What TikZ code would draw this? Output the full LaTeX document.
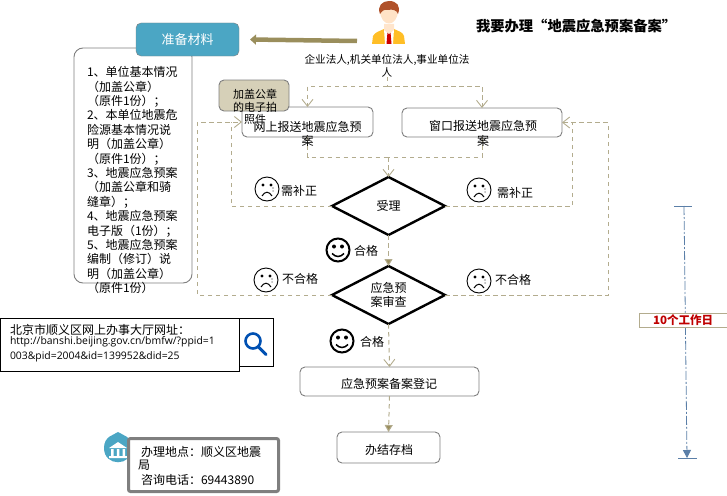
\documentclass[tikz,border=0pt]{standalone}
\usepackage{fontspec}
\setmainfont{Noto Sans CJK SC}
\newfontfamily\urlfont{Open Sans}
\usetikzlibrary{arrows.meta,shapes.geometric}
\definecolor{olive}{HTML}{B3AC8E}
\definecolor{olivedark}{HTML}{9A8E5C}
\definecolor{teal}{HTML}{4BA6C4}
\definecolor{tan}{HTML}{D6D0B8}
\definecolor{boxgray}{HTML}{7F7F7F}
\definecolor{steel}{HTML}{5B7FA8}
\tikzset{
  x=1pt,y=-1pt,
  every node/.style={inner sep=0pt,outer sep=0pt,text=black},
  txt/.style={font=\fontsize{12}{14.4}\selectfont,align=center},
  small/.style={font=\fontsize{11}{12.5}\selectfont,align=center},
  proc/.style={draw=boxgray,line width=0.9pt,rounded corners=5pt,fill=white},
  decide/.style={diamond,draw=black,line width=2.4pt,fill=white,aspect=1.95,minimum width=113pt,minimum height=58pt},
  dashline/.style={draw=olive,line width=1pt,dash pattern=on 4.5pt off 3.5pt},
  openarrow/.style={dashline,-{Straight Barb[length=7pt,width=11pt,line width=0.9pt]}},
  fillarrow/.style={dashline,-{Triangle[length=7pt,width=8pt,fill=olivedark]}},
  sadface/.pic={
    \draw[line width=0.9pt,fill=white] (0,0) circle (12);
    \fill (-4,-4) circle (1.7) (4,-4) circle (1.7);
    \draw[line width=1pt] (-5,7) .. controls (-2,2) and (2,2) .. (5,7);
    \fill[gray!60] (6,-1) circle (1.2) (6,2) circle (1);
  },
  happyface/.pic={
    \draw[line width=2pt,fill=white] (0,0) circle (11.5);
    \fill (-4,-3.5) circle (2) (4,-3.5) circle (2);
    \draw[line width=1.5pt] (-6,3.5) .. controls (-2,7.5) and (2,7.5) .. (6,3.5);
  }
}
\begin{document}
\begin{tikzpicture}
\useasboundingbox (0,0) rectangle (727,495);
% materials
\node[proc,draw=boxgray,rounded corners=9pt,minimum width=118pt,minimum height=235pt] (matbox) at (133,165.5) {};
\node[fill=teal,draw=boxgray,rounded corners=5pt,minimum width=103pt,minimum height=33pt,font=\fontsize{13}{15}\selectfont] (prep) at (187.5,39.5) {\textcolor{white}{准备材料}};
\node[anchor=north west,font=\fontsize{12}{14.4}\selectfont,align=left] (mattext) at (87,66.5) {1、单位基本情况\\（加盖公章）\\（原件1份）；\\2、本单位地震危\\险源基本情况说\\明（加盖公章）\\（原件1份）；\\3、地震应急预案\\（加盖公章和骑\\缝章）；\\4、地震应急预案\\电子版（1份）；\\5、地震应急预案\\编制（修订）说\\明（加盖公章）\\（原件1份）};
% person
\fill[orange!60!yellow!85!white] (372,44) -- (373,36) .. controls (375,32) and (380,31) .. (384,29) -- (394,29) .. controls (398,31) and (403,32) .. (404,36) -- (405,44) -- cycle;
\fill[white] (384,29) -- (389,34) -- (394,29) -- (393,44) -- (385,44) -- cycle;
\fill[red!80!black] (387.5,32) -- (390.5,32) -- (391.5,44) -- (386.5,44) -- cycle;
\fill[orange!20!white] (384,24) -- (394,24) -- (394,30) -- (389,34) -- (384,30) -- cycle;
\fill[orange!22!white] (380,10) .. controls (380,28) and (398,28) .. (398,10) -- cycle;
\fill[brown!75!red!85!black] (380,14) .. controls (377,6) and (382,1) .. (389,1) .. controls (397,1) and (401,6) .. (398,14) .. controls (397,10) and (392,9) .. (388,10) .. controls (384,9) and (382,11) .. (380,14) -- cycle;
\node[small,font=\fontsize{10.6}{13}\selectfont] (people) at (387,65.5) {企业法人,机关单位法人,事业单位法\\人};
\node[anchor=west,font=\bfseries\fontsize{14.3}{16}\selectfont] (title) at (476,26) {我要办理“地震应急预案备案”};
\coordinate (tail) at (357,41);
\draw[draw=olivedark,line width=4.5pt,-{Triangle[length=6pt,width=10pt,fill=olivedark]}] (tail) -- (prep.east -| 250,41);
% process boxes
\node[proc,minimum width=131pt,minimum height=30pt] (net) at (307.5,122) {};
\node[proc,minimum width=160pt,minimum height=29pt] (win) at (482,122.5) {};
\node[decide] (d1) at (388.5,206) {};
\node[txt] (d1t) at (388.5,206) {受理};
\node[decide] (d2) at (388.5,295) {};
\node[txt] (d2t) at (388.5,295) {应急预\\案审查};
\node[proc,minimum width=179pt,minimum height=29pt] (reg) at (389.5,381.5) {};
\node[proc,minimum width=103pt,minimum height=31pt] (arch) at (388.5,447.5) {};
% connectors
\coordinate (topbus) at (387,86);
\coordinate (botbus) at (388.5,157);
\draw[dashline] (people.south) -- (topbus);
\draw[openarrow] (topbus) -| (net.north);
\draw[openarrow] (topbus) -| (win.north);
\draw[dashline] (net.south) |- (botbus);
\draw[dashline] (win.south) |- (botbus);
\draw[openarrow] (botbus) -- (d1.north);
\draw[fillarrow] (d1.south) -- (d2.north);
\draw[openarrow] (d2.south) -- (reg.north);
\draw[fillarrow] (reg.south) -- (arch.north);
\coordinate (la) at (231,206);
\coordinate (lb) at (197,295);
\coordinate (ra) at (572,206);
\coordinate (rb) at (608,295);
\draw[dashline] (d1.west) -- (la) -- (la |- net.west);
\draw[openarrow] (d2.west) -- (lb) |- (net.west);
\draw[dashline] (d1.east) -- (ra) -- (ra |- win.east);
\draw[openarrow] (d2.east) -- (rb) |- (win.east);
% box texts
\node[txt] (nett) at (307.5,134) {网上报送地震应急预\\案};
\node[txt] (wint) at (483,133.5) {窗口报送地震应急预\\案};
\node[txt] (regt) at (389,384) {应急预案备案登记};
\node[txt] (archt) at (389,450) {办结存档};
% stamp box
\node[fill=tan,draw=boxgray,line width=0.9pt,rounded corners=5pt,minimum width=70pt,minimum height=31pt] (stamp) at (254,95.5) {};
\node[small] (stampt) at (255,107) {加盖公章\\的电子拍\\照件};
% faces and labels
\pic at (267,189) {sadface};
\node[txt] (l1) at (299,191) {需补正};
\pic at (479,190) {sadface};
\node[txt] (l2) at (515,193) {需补正};
\pic at (338,250) {happyface};
\node[txt] (l3) at (366,251) {合格};
\pic at (266,280) {sadface};
\node[txt] (l4) at (300,279) {不合格};
\pic at (479,281) {sadface};
\node[txt] (l5) at (513,280) {不合格};
\pic at (342,341) {happyface};
\node[txt] (l6) at (372,342) {合格};
% url box
\node[draw=black,line width=1pt,minimum width=34pt,minimum height=48pt] (icon) at (256,342) {};
\node[draw=black,line width=1pt,fill=white,minimum width=239pt,minimum height=53pt] (urlbox) at (119.5,344.5) {};
\node[anchor=west,font=\fontsize{12}{14}\selectfont] (urlh) at (10,330) {北京市顺义区网上办事大厅网址：};
\node[anchor=north west,align=left,font=\urlfont\fontsize{10.4}{15}\selectfont] (url) at (10,337) {http://banshi.beijing.gov.cn/bmfw/?ppid=1\\003\&pid=2004\&id=139952\&did=25};
\draw[blue!55!cyan!70!black,line width=2.6pt] (253,341) circle (7.5);
\draw[blue!55!cyan!70!black,line width=3pt,line cap=round] (258.5,347) -- (266,354.5);
% office
\fill[teal] (118,432) .. controls (122,435) and (132,436) .. (132,448) .. controls (132,467) and (104,467) .. (104,448) .. controls (104,436) and (114,435) .. (118,432) -- cycle;
\fill[white] (118,442) -- (127,448) -- (109,448) -- cycle;
\fill[white] (111,449) rectangle (113.5,456) (116.8,449) rectangle (119.3,456) (122.5,449) rectangle (125,456) (109,456) rectangle (127,458);
\node[draw=boxgray,line width=3pt,rounded corners=2pt,fill=white,minimum width=150pt,minimum height=53pt] (office) at (203.5,465) {};
\node[anchor=west,font=\fontsize{12}{14}\selectfont] (o1) at (141,452) {办理地点：顺义区地震};
\node[anchor=west,font=\fontsize{12}{14}\selectfont] (o2) at (138,465) {局};
\node[anchor=west,font=\fontsize{12}{14}\selectfont] (o3) at (141,480) {咨询电话：69443890};
% timeline
\coordinate (ttop) at (684,206);
\coordinate (tbot) at (687,458);
\draw[steel,line width=0.8pt] (674,206) -- (692,206);
\draw[steel,line width=0.8pt] (678,458) -- (697,458);
\draw[steel,line width=0.8pt,dash pattern=on 9pt off 2pt on 2pt off 2pt,-{Triangle[length=8pt,width=8pt,fill=steel]}] (ttop) -- (tbot);
\node[draw=olive,line width=0.8pt,fill=white,minimum width=88pt,minimum height=14pt,font=\bfseries\fontsize{11.5}{13}\selectfont] (days) at (683,320) {\textcolor{red!75!black}{10个工作日}};
\end{tikzpicture}
\end{document}
